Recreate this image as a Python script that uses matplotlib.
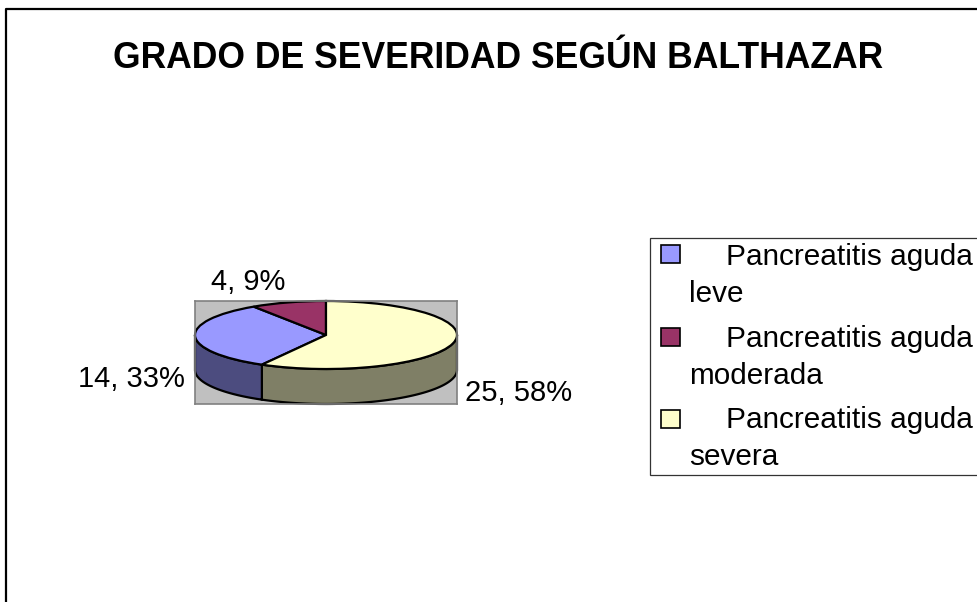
import numpy as np
import matplotlib
matplotlib.use("Agg")
import matplotlib.pyplot as plt
from matplotlib.patches import Polygon, Rectangle

plt.rcParams['font.family'] = ['Liberation Sans', 'DejaVu Sans']

TITLE = "GRADO DE SEVERIDAD SEGÚN BALTHAZAR"
categories = ["Pancreatitis aguda leve", "Pancreatitis aguda moderada", "Pancreatitis aguda severa"]
values = [14, 4, 25]
top_colors = ["#9999FF", "#993366", "#FFFFCC"]
side_colors = ["#4C4C7F", "#4C1933", "#7F7F66"]

W, H = 977, 602
fig = plt.figure(figsize=(W / 100, H / 100), dpi=100, facecolor="white")

# page overlay in pixel coordinates
bg = fig.add_axes([0, 0, 1, 1])
bg.set_xlim(0, W); bg.set_ylim(H, 0); bg.axis("off")
bg.plot([6, 6, W + 5], [H + 5, 9, 9], color="black", lw=1.6, solid_capstyle="butt")

bg.text(498.5, 68, TITLE, fontsize=25.6, fontweight="bold", ha="center", va="baseline")

# pie plot area
x0, x1, y0, y1 = 195, 457, 301, 404
ax = fig.add_axes([x0 / W, 1 - y1 / H, (x1 - x0) / W, (y1 - y0) / H])
ry_px = 34.0
depth_px = y1 - y0 - 2 * ry_px
ax.set_facecolor("#C0C0C0")
for s in ax.spines.values():
    s.set_color("#808080"); s.set_linewidth(1.2)

fracs = np.array(values, dtype=float) / sum(values)
start = 90 - fracs[2] * 360  # severe slice begins at twelve o'clock, going clockwise
depth = depth_px / ry_px


def side(a0, a1, color):
    """Rim of the disc between clockwise angles a0..a1 measured from twelve o'clock."""
    a = np.radians(np.linspace(a0, a1, 120))
    xs, ys = np.sin(a), np.cos(a)
    pts = np.r_[np.c_[xs, ys], np.c_[xs[::-1], ys[::-1] - depth]]
    ax.add_patch(Polygon(pts, closed=True, facecolor=color, edgecolor="black", lw=1.6, zorder=1, clip_on=False))


sev_end = fracs[2] * 360
side(90, sev_end, side_colors[2])
side(sev_end, 270, side_colors[0])

wedges, _ = ax.pie(values, colors=top_colors, startangle=start, counterclock=False, radius=1,
                   wedgeprops=dict(edgecolor="black", linewidth=1.6, clip_on=False))
ax.set_aspect("auto")
ax.set_frame_on(True)
ax.set_xlim(-1, 1)
ax.set_ylim(1 - (y1 - y0) / ry_px, 1)
ax.set_xticks([]); ax.set_yticks([])

# data labels
lab_fs = 21
pct = [round(f * 100) for f in fracs]
lab_pos = [(131.5, 387), (248, 290), (518.5, 401)]
for v, p, (lx, ly) in zip(values, pct, lab_pos):
    bg.text(lx, ly, f"{v}, {p}%", fontsize=lab_fs, ha="center", va="baseline", zorder=5)

# legend
leg_fs = 21.4
bg.add_patch(Rectangle((649.5, 237.5), 340, 237, facecolor="white", edgecolor="#333333", lw=0.9, clip_on=False, zorder=3))
swatch_tops = [244, 327, 409]
line1 = [265, 347, 428]
line2 = [302, 384, 465]
for name, col, st, b1, b2 in zip(categories, top_colors, swatch_tops, line1, line2):
    first, second = name.rsplit(" ", 1)
    bg.add_patch(Rectangle((660.5, st + 0.5), 19, 18, facecolor=col, edgecolor="black", lw=1.2, zorder=4))
    bg.text(726, b1, first, fontsize=leg_fs, ha="left", va="baseline", zorder=4)
    bg.text(689, b2, second, fontsize=leg_fs, ha="left", va="baseline", zorder=4)

fig.savefig("out.png", dpi=100, facecolor="white")
